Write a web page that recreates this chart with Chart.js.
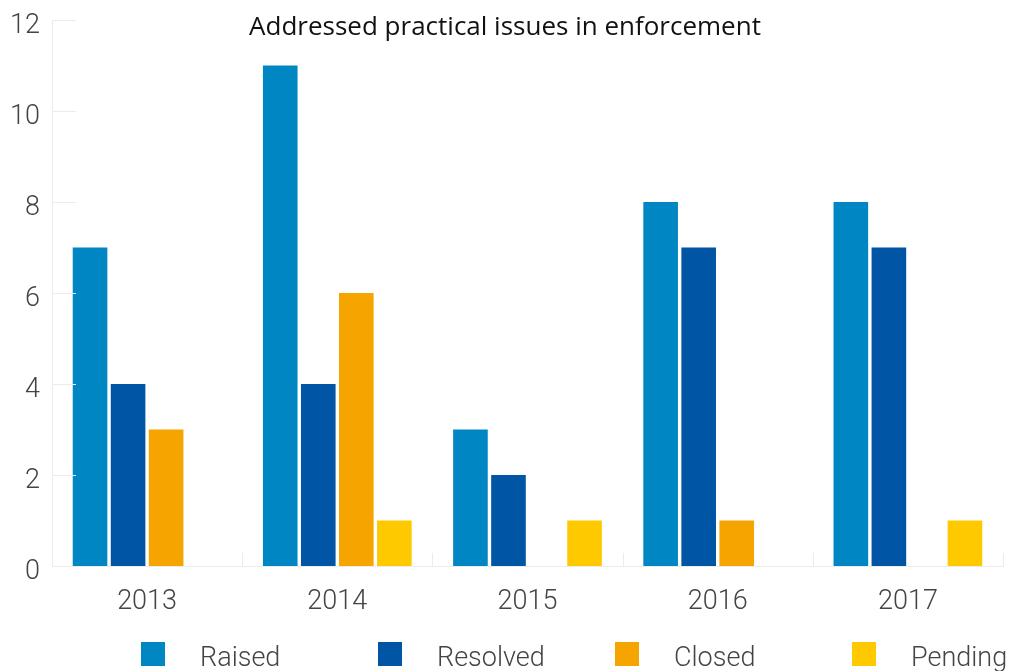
<!DOCTYPE html>
<html>
<head>
<meta charset="utf-8">
<script src="https://cdn.jsdelivr.net/npm/chart.js@4/dist/chart.umd.min.js"></script>
<style>
  html, body { margin: 0; padding: 0; background: #fff; overflow: hidden; }
  #wrap { position: relative; width: 1012px; height: 671px; }
  #legend {
    position: absolute; left: 141px; top: 642px;
    display: flex; font-family: Roboto, sans-serif; font-weight: 300;
    font-size: 27px; color: #444; line-height: 24px; white-space: nowrap;
  }
  #legend .item { width: 237px; display: flex; align-items: center; }
  #legend .box { width: 24px; height: 24px; margin-right: 35px; box-sizing: border-box; }
  #legend .lbl { position: relative; top: 3px; }
</style>
</head>
<body>
<div id="wrap">
  <canvas id="issuesChart" width="1012" height="671"></canvas>
  <div id="legend"></div>
</div>
<script>
// Chart data
const years = ['2013', '2014', '2015', '2016', '2017'];
const raised = [7, 11, 3, 8, 8];
const resolved = [4, 4, 2, 7, 7];
const closed = [3, 6, 0, 1, 0];
const pending = [0, 1, 1, 0, 1];
const yTicks = [0, 2, 4, 6, 8, 10, 12];

const chartTitle = 'Addressed practical issues in enforcement';
const axisColor = '#ebebeb';
const labelFont = { family: 'Roboto', weight: '300', size: 27 };

// Short tick marks drawn inside the plot area, plus the title over the top
const innerTicks = {
    id: 'innerTicks',
    afterDraw(chart) {
        const ctx = chart.ctx;
        const x = chart.scales.x;
        const y = chart.scales.y;
        const area = chart.chartArea;
        ctx.save();
        ctx.strokeStyle = axisColor;
        ctx.lineWidth = 1;
        yTicks.forEach(v => {
            const py = Math.round(y.getPixelForValue(v)) + 0.5;
            ctx.beginPath();
            ctx.moveTo(area.left, py);
            ctx.lineTo(area.left + 24, py);
            ctx.stroke();
        });
        for (let i = 0; i < years.length; i++) {
            const px = Math.round(x.getPixelForValue(i + 0.5)) + 0.5;
            ctx.beginPath();
            ctx.moveTo(px, area.bottom);
            ctx.lineTo(px, area.bottom - 13);
            ctx.stroke();
        }
        ctx.fillStyle = '#111';
        ctx.font = '400 26px "Open Sans", sans-serif';
        ctx.textAlign = 'center';
        ctx.textBaseline = 'middle';
        ctx.fillText(chartTitle, 505, 28);
        ctx.restore();
    }
};

const ctx = document.getElementById('issuesChart').getContext('2d');
const chart = new Chart(ctx, {
    type: 'bar',
    data: {
        labels: years,
        datasets: [
            { label: 'Raised', data: raised, backgroundColor: '#0086c3' },
            { label: 'Resolved', data: resolved, backgroundColor: '#0055a5' },
            { label: 'Closed', data: closed, backgroundColor: '#f6a500' },
            { label: 'Pending', data: pending, backgroundColor: '#ffc900' }
        ]
    },
    options: {
        responsive: false,
        animation: false,
        categoryPercentage: 0.8,
        barPercentage: 0.91,
        layout: { padding: { top: 20, right: 9, left: 0, bottom: 0 } },
        plugins: {
            legend: { display: false },
            title: { display: false },
            tooltip: { enabled: false }
        },
        scales: {
            x: {
                grid: { display: false, drawTicks: false },
                border: { color: axisColor },
                ticks: { color: '#444', font: labelFont, padding: 20 },
                afterFit: s => { s.height = 105; s.paddingLeft = 0; s.paddingRight = 0; }
            },
            y: {
                min: 0,
                max: 12,
                afterBuildTicks: s => { s.ticks = yTicks.map(v => ({ value: v })); },
                grid: { display: false, drawTicks: false },
                border: { color: axisColor },
                ticks: { color: '#444', font: labelFont, padding: 12, labelOffset: 6 },
                afterFit: s => { s.width = 52; s.paddingTop = 0; s.paddingBottom = 0; }
            }
        }
    },
    plugins: [innerTicks]
});

// Legend built from the datasets
const legend = document.getElementById('legend');
chart.data.datasets.forEach(ds => {
    const item = document.createElement('div');
    item.className = 'item';
    item.innerHTML = `<span class="box" style="background:${ds.backgroundColor}"></span><span class="lbl">${ds.label}</span>`;
    legend.appendChild(item);
});
</script>
</body>
</html>
